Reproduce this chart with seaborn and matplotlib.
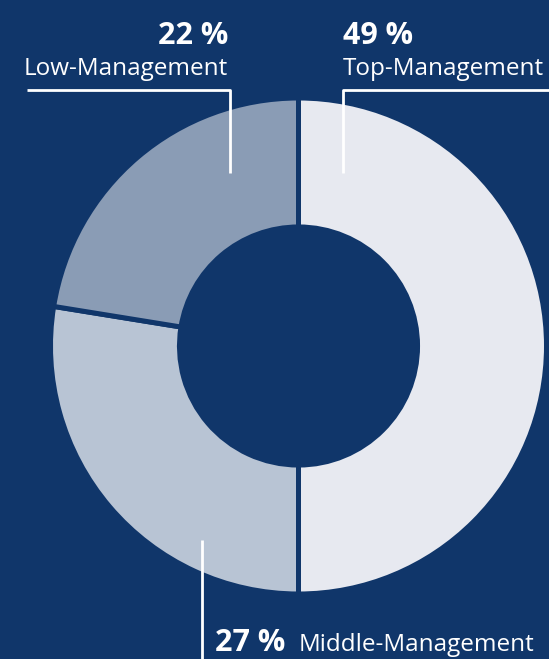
import numpy as np
import matplotlib
matplotlib.use("Agg")
import matplotlib.pyplot as plt
import seaborn as sns

# ------------------------------------------
# data
# ------------------------------------------
labels = ["Top-Management", "Middle-Management", "Low-Management"]
shares = [49, 27, 22]
pct_text = ["49 %", "27 %", "22 %"]

bg = "#10366a"
slice_colors = ["#e7e9f0", "#b8c4d4", "#8a9cb5"]

sns.set_theme(style="white")
plt.rcParams["font.family"] = ["Open Sans", "DejaVu Sans"]

W, H = 549, 659
fig = plt.figure(figsize=(W / 100, H / 100), dpi=100, facecolor=bg)

# donut axes (centre ~ (298, 346) px, radius ~246 px)
cx, cy, r = 298.5, 346, 248
ax = fig.add_axes([(cx - r) / W, (H - cy - r) / H, 2 * r / W, 2 * r / H])
ax.pie(shares, colors=sns.color_palette(slice_colors), startangle=90,
       counterclock=False, radius=1,
       wedgeprops=dict(width=0.52, edgecolor=bg, linewidth=3.6))
# pie() resets the limits, so set them afterwards
ax.set_xlim(-1, 1)
ax.set_ylim(-1, 1)
ax.set_aspect("equal")
ax.axis("off")

# overlay in pixel coordinates for labels and leader lines
ov = fig.add_axes([0, 0, 1, 1])
ov.set_xlim(0, W)
ov.set_ylim(H, 0)
ov.axis("off")
ov.patch.set_alpha(0)

lw = 2.0
# Low-Management leader
ov.plot([27, 230, 230], [90, 90, 173], color="white", lw=lw, solid_capstyle="butt")
# Top-Management leader
ov.plot([549, 343, 343], [90, 90, 173], color="white", lw=lw, solid_capstyle="butt")
# Middle-Management leader
ov.plot([202, 202], [540, 659], color="white", lw=lw, solid_capstyle="butt")

big = 22
small = 17.5
# Low
ov.text(228, 44, pct_text[2], color="white", fontsize=big, fontweight="bold",
        ha="right", va="baseline")
ov.text(228, 75, labels[2], color="white", fontsize=small, ha="right", va="baseline")
# Top
ov.text(343, 44, pct_text[0], color="white", fontsize=big, fontweight="bold",
        ha="left", va="baseline")
ov.text(343, 75, labels[0], color="white", fontsize=small, ha="left", va="baseline")
# Middle
ov.text(215, 651, pct_text[1], color="white", fontsize=big, fontweight="bold",
        ha="left", va="baseline")
ov.text(299, 651, labels[1], color="white", fontsize=small, ha="left", va="baseline")

fig.savefig("out.png", dpi=100, facecolor=bg)
